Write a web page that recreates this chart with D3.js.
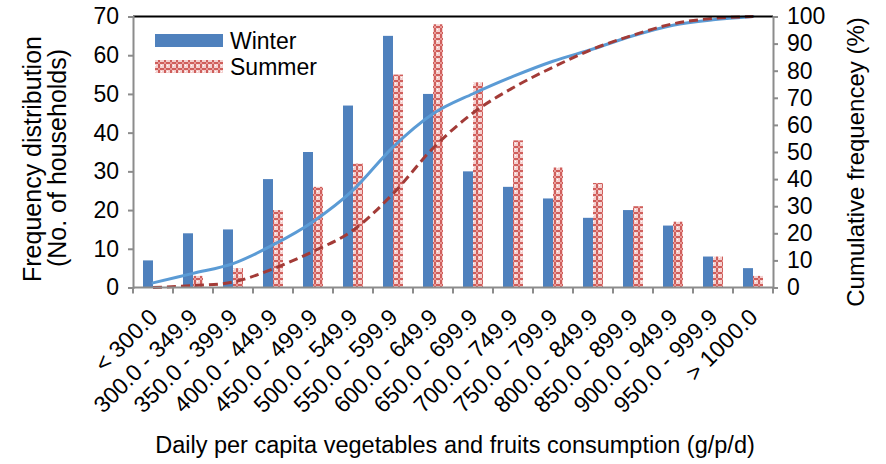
<!DOCTYPE html>
<html>
<head>
<meta charset="utf-8">
<script src="https://cdn.jsdelivr.net/npm/d3@7"></script>
<style>
  html, body { margin: 0; padding: 0; background: #fff; }
  svg { display: block; font-family: "Liberation Sans", Arial, sans-serif; }
</style>
</head>
<body>
<svg id="chart" width="886" height="464"></svg>
<script>
// Consumption classes (g/p/d)
const categories = ["< 300.0", "300.0 - 349.9", "350.0 - 399.9", "400.0 - 449.9", "450.0 - 499.9",
  "500.0 - 549.9", "550.0 - 599.9", "600.0 - 649.9", "650.0 - 699.9", "700.0 - 749.9",
  "750.0 - 799.9", "800.0 - 849.9", "850.0 - 899.9", "900.0 - 949.9", "950.0 - 999.9", "> 1000.0"];

// Number of households per class
const winterFreq = [7, 14, 15, 28, 35, 47, 65, 50, 30, 26, 23, 18, 20, 16, 8, 5];
const summerFreq = [0, 3, 5, 20, 26, 32, 55, 68, 53, 38, 31, 27, 21, 17, 8, 3];

// Cumulative frequency (%)
const winterCum = [1.7, 5.2, 8.8, 15.7, 24.3, 35.9, 51.8, 64.1, 71.5, 77.9, 83.5, 88.0, 92.9, 96.8, 98.8, 100];
const summerCum = [0.0, 0.7, 2.0, 6.9, 13.3, 21.1, 34.6, 51.4, 64.4, 73.7, 81.3, 88.0, 93.1, 97.3, 99.3, 100];

const leftTicks = [0, 10, 20, 30, 40, 50, 60, 70];
const rightTicks = [0, 10, 20, 30, 40, 50, 60, 70, 80, 90, 100];

const seriesNames = ["Winter", "Summer"];

const svg = d3.select("#chart");
const m = { left: 133, right: 773, top: 16.5, bottom: 287.5 };
const axisGrey = "#8c8c8c";
const winterColor = "#4F81BD";

// Hatched fill for the summer bars
const defs = svg.append("defs");
const pat = defs.append("pattern")
  .attr("id", "summerFill")
  .attr("patternUnits", "userSpaceOnUse")
  .attr("width", 6).attr("height", 6);
pat.append("rect").attr("width", 6).attr("height", 6).attr("fill", "#f4d0cf");
pat.append("rect").attr("x", 2).attr("y", 0).attr("width", 2).attr("height", 6).attr("fill", "#cf5e5b");
pat.append("rect").attr("x", 0).attr("y", 2).attr("width", 6).attr("height", 2).attr("fill", "#cf5e5b");
pat.append("rect").attr("x", 2).attr("y", 2).attr("width", 2).attr("height", 2).attr("fill", "#e89a98");
pat.append("rect").attr("x", 5).attr("y", 5).attr("width", 1).attr("height", 1).attr("fill", "#fff");

const x = d3.scaleBand().domain(categories).range([m.left, m.right]).paddingInner(0).paddingOuter(0);
const sub = d3.scaleBand().domain(seriesNames).range([0, x.bandwidth()]).paddingInner(0).paddingOuter(1);
const yL = d3.scaleLinear().domain([0, 70]).range([m.bottom, m.top]);
const yR = d3.scaleLinear().domain([0, 100]).range([m.bottom, m.top]);

// Bars
const rows = categories.map((c, i) => ({ c, w: winterFreq[i], s: summerFreq[i] }));
const g = svg.append("g");
g.selectAll("rect.winter").data(rows).join("rect")
  .attr("class", "winter")
  .attr("x", d => x(d.c) + sub("Winter"))
  .attr("width", sub.bandwidth())
  .attr("y", d => yL(d.w))
  .attr("height", d => yL(0) - yL(d.w))
  .attr("fill", winterColor);
g.selectAll("rect.summer").data(rows).join("rect")
  .attr("class", "summer")
  .attr("x", d => x(d.c) + sub("Summer"))
  .attr("width", sub.bandwidth())
  .attr("y", d => yL(d.s))
  .attr("height", d => yL(0) - yL(d.s))
  .attr("fill", "url(#summerFill)");

// Cumulative curves
const cx = c => x(c) + x.bandwidth() / 2;
const line = d3.line().x(d => cx(d[0])).y(d => yR(d[1])).curve(d3.curveCardinal.tension(0));
svg.append("path")
  .attr("d", line(categories.map((c, i) => [c, winterCum[i]])))
  .attr("fill", "none").attr("stroke", "#5B9BD5").attr("stroke-width", 3)
  .attr("stroke-linecap", "round");
svg.append("path")
  .attr("d", line(categories.map((c, i) => [c, summerCum[i]])))
  .attr("fill", "none").attr("stroke", "#A33B37").attr("stroke-width", 3)
  .attr("stroke-dasharray", "9,5");

// Top border
svg.append("line").attr("x1", m.left).attr("x2", m.right).attr("y1", m.top).attr("y2", m.top)
  .attr("stroke", "#000").attr("stroke-width", 2);

// Left axis
const axL = svg.append("g").attr("transform", `translate(${m.left},0)`)
  .call(d3.axisLeft(yL).tickValues(leftTicks).tickSize(5).tickPadding(9).tickFormat(d3.format("d")));
// Right axis
const axR = svg.append("g").attr("transform", `translate(${m.right},0)`)
  .call(d3.axisRight(yR).tickValues(rightTicks).tickSize(5).tickPadding(9).tickFormat(d3.format("d")));
[axL, axR].forEach(a => {
  a.select(".domain").attr("stroke", axisGrey).attr("stroke-width", 2);
  a.selectAll(".tick line").attr("stroke", axisGrey).attr("stroke-width", 2);
  a.selectAll(".tick text").attr("font-size", 23).attr("fill", "#000")
    .attr("font-family", "Liberation Sans, Arial, sans-serif");
});

// Bottom axis: tick marks at class boundaries, labels rotated
const bounds = categories.map(c => x(c)).concat([m.right]);
svg.append("line").attr("x1", m.left).attr("x2", m.right).attr("y1", m.bottom).attr("y2", m.bottom)
  .attr("stroke", axisGrey).attr("stroke-width", 2);
svg.append("g").selectAll("line").data(bounds).join("line")
  .attr("x1", d => d).attr("x2", d => d)
  .attr("y1", m.bottom).attr("y2", m.bottom + 6)
  .attr("stroke", axisGrey).attr("stroke-width", 2);
svg.append("g").selectAll("text").data(categories).join("text")
  .attr("transform", c => `translate(${cx(c) + 6},${m.bottom + 31}) rotate(-45)`)
  .attr("text-anchor", "end")
  .attr("font-size", 23)
  .text(c => c);

// Axis titles
svg.append("text")
  .attr("transform", "translate(41,159) rotate(-90)")
  .attr("text-anchor", "middle").attr("font-size", 25)
  .text("Frequency distribution");
svg.append("text")
  .attr("transform", "translate(66,158) rotate(-90)")
  .attr("text-anchor", "middle").attr("font-size", 25)
  .text("(No. of households)");
svg.append("text")
  .attr("transform", "translate(864,162) rotate(-90)")
  .attr("text-anchor", "middle").attr("font-size", 24)
  .text("Cumulative frequencey (%)");
svg.append("text")
  .attr("x", 455).attr("y", 453)
  .attr("text-anchor", "middle").attr("font-size", 23.5)
  .text("Daily per capita vegetables and fruits consumption (g/p/d)");

// Legend
const leg = svg.append("g");
seriesNames.forEach((name, i) => {
  const yy = 34 + i * 26;
  leg.append("rect").attr("x", 155).attr("y", yy).attr("width", 68).attr("height", 13)
    .attr("fill", i === 0 ? winterColor : "url(#summerFill)");
  leg.append("text").attr("x", 230).attr("y", yy + 15).attr("font-size", 23).text(name);
});
</script>
</body>
</html>
